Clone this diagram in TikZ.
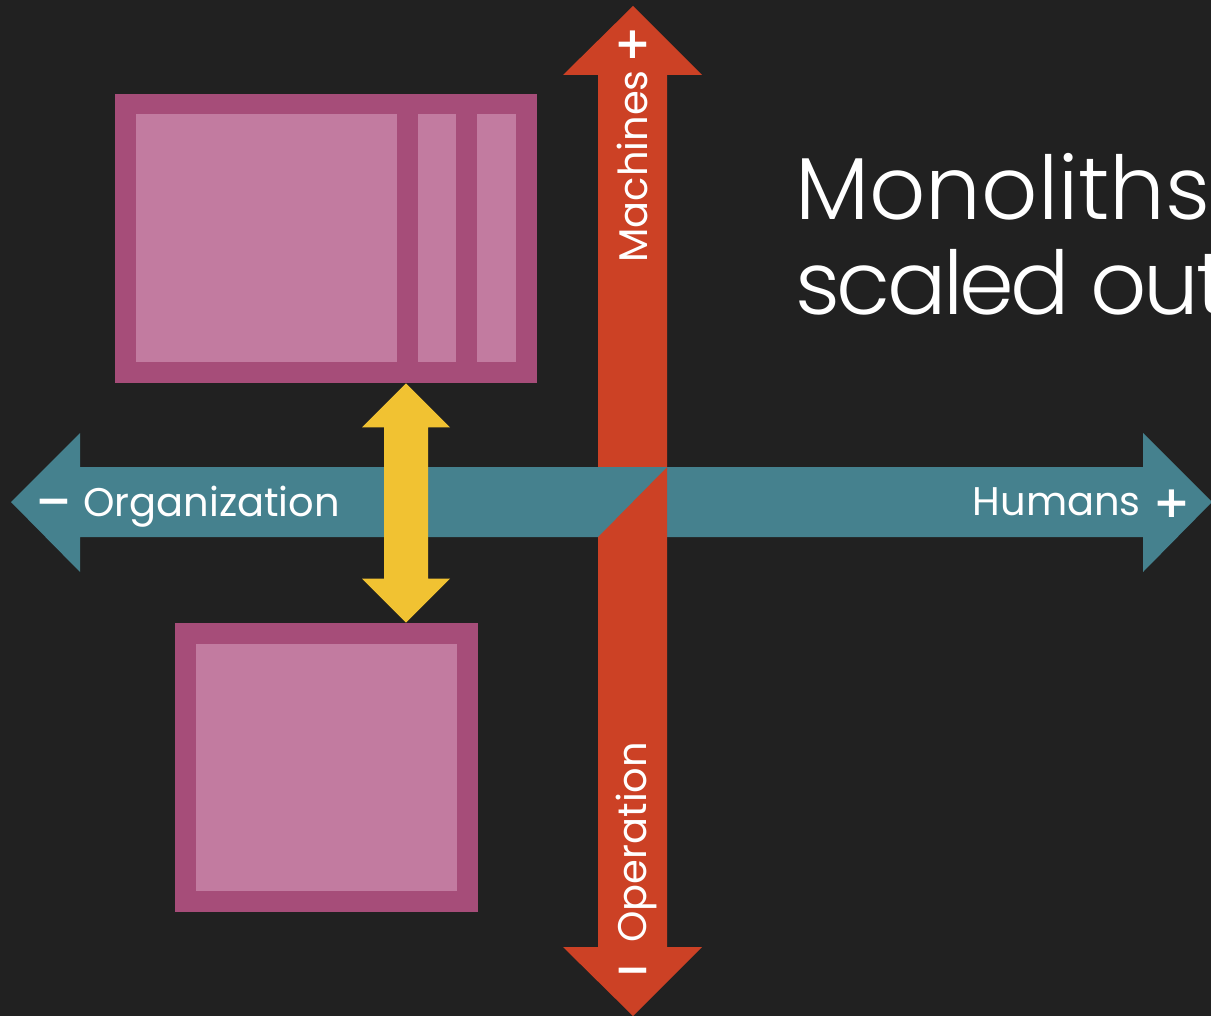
\documentclass[tikz,border=0pt]{standalone}
\usepackage{fontspec}
\setmainfont{Poppins}
\IfFontExistsTF{Poppins Light}{\newfontfamily\titlefont{Poppins Light}\newfontfamily\titlefonttight{Poppins Light}[LetterSpace=-4]}{\newfontfamily\titlefont{Poppins}\newfontfamily\titlefonttight{Poppins}[LetterSpace=-4]}
\newfontfamily\signfont{DejaVu Sans}
\usetikzlibrary{calc}
\definecolor{BgGrey}{HTML}{212121}
\definecolor{AxisRed}{HTML}{CC4125}
\definecolor{AxisTeal}{HTML}{45818E}
\definecolor{LinkYellow}{HTML}{F1C232}
\definecolor{BoxDark}{HTML}{A64D79}
\definecolor{BoxLight}{HTML}{C27BA0}
\tikzset{BoxFrame/.style={
    rectangle,
    inner sep=0pt,
    fill=BoxDark
    }
}
\tikzset{BoxPanel/.style={
    rectangle,
    inner sep=0pt,
    fill=BoxLight
    }
}
\tikzset{AxisLabel/.style={
    inner sep=0pt,
    text=white,
    font=\fontsize{30}{30}\selectfont
    }
}
\tikzset{SignMark/.style={
    inner sep=0pt,
    text=white,
    font=\signfont\bfseries\fontsize{33}{33}\selectfont
    }
}
\tikzset{TitleText/.style={
    inner sep=0pt,
    text=white,
    font=\titlefont\fontsize{66}{66}\selectfont
    }
}
\begin{document}
\begin{tikzpicture}[x=0.75pt, y=-0.75pt]
    \useasboundingbox (0,0) rectangle (1211,1016);
    \fill[BgGrey] (0,0) rectangle (1211,1016);
    \clip (0,0) rectangle (1211,1016);

    % the two boxes
    \node (Top) [BoxFrame, minimum width=316.5pt, minimum height=216.75pt] at (326,238.5) {};
    \node (TopMain) [BoxPanel, minimum width=195.75pt, minimum height=186pt] at (266.5,238) {};
    \node (TopSideA) [BoxPanel, minimum width=28.5pt, minimum height=186pt] at (437,238) {};
    \node (TopSideB) [BoxPanel, minimum width=29.25pt, minimum height=186pt] at (496.5,238) {};

    \node (Bottom) [BoxFrame, minimum width=227.25pt, minimum height=216.75pt] at (326.5,767.5) {};
    \node (BottomMain) [BoxPanel, minimum width=195.75pt, minimum height=185.25pt] at (326.5,767.5) {};

    % horizontal axis
    \fill[AxisTeal] (11,502) -- (80,433) -- (80,467) -- (1143,467) -- (1143,433) -- (1212,502)
        -- (1143,572) -- (1143,537) -- (80,537) -- (80,572) -- cycle;

    % vertical axis
    \fill[AxisRed] (633,6) -- (702,75) -- (667,75) -- (667,947) -- (702,947) -- (633,1016)
        -- (563,947) -- (598,947) -- (598,75) -- (563,75) -- cycle;
    \fill[AxisTeal] (598,467) -- (667,467) -- (598,537) -- cycle;

    % link between the boxes
    \coordinate (ya) at ($(Top.south)+(80,0)$);
    \coordinate (yb) at (ya |- Bottom.north);
    \fill[LinkYellow] (ya) -- ++(44,44) -- ++(-22,0) -- ($(yb)+(22,-44)$) -- ++(22,0) -- (yb)
        -- ++(-44,-44) -- ++(22,0) -- ($(ya)+(-22,44)$) -- ++(-22,0) -- cycle;

    % labels
    \node (Org) [AxisLabel, anchor=base west] at (83,516) {Organization};
    \node (Hum) [AxisLabel, anchor=base east] at (1141,515) {Humans};
    \node (Mac) [AxisLabel, rotate=90, anchor=base west] at (647,263) {Machines};
    \node (Ope) [AxisLabel, rotate=90, anchor=base west] at (646,943) {Operation};

    \node (OrgSign) [SignMark] at (54,502) {\vphantom{+}−};
    \node (HumSign) [SignMark] at (1172,503.5) {+};
    \node (MacSign) [SignMark] at (633,44.5) {+};
    \node (OpeSign) [SignMark] at (633,971) {\vphantom{+}−};

    % title
    \node (Title) [TitleText, anchor=base west] at (795,220) {Monoliths};
    \node (TitleB) [TitleText, font=\titlefonttight\fontsize{66}{66}\selectfont, anchor=base west] at (795,315) {scaled out};
\end{tikzpicture}
\end{document}
